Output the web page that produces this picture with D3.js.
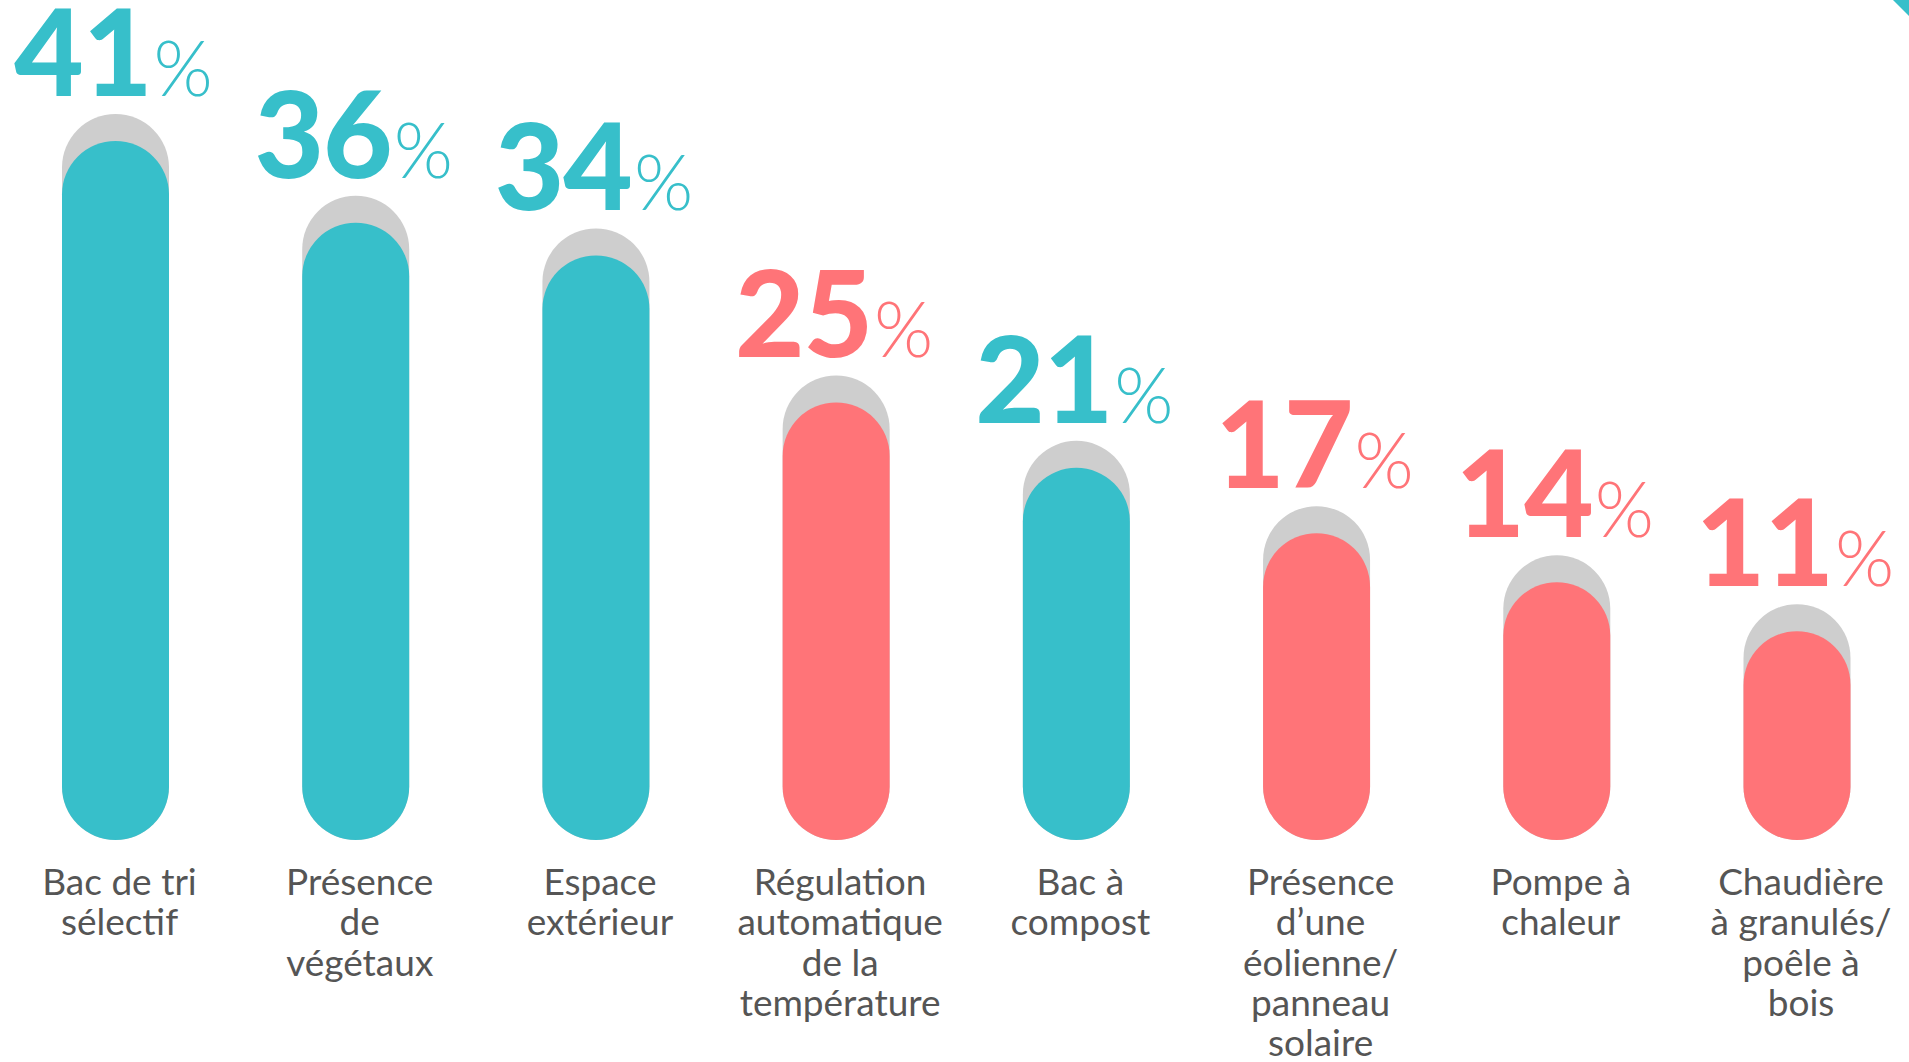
<!DOCTYPE html>
<html>
<head>
<meta charset="utf-8">
<script src="https://cdn.jsdelivr.net/npm/d3@7"></script>
<style>
  body { margin: 0; background: #fff; }
</style>
</head>
<body>
<div class="content"></div>
<script>
// data
const categories = ['tri', 'vegetaux', 'exterieur', 'regulation', 'compost', 'eolienne', 'pompe', 'chaudiere']
const labels = [
  ['Bac de tri', 'sélectif'],
  ['Présence', 'de', 'végétaux'],
  ['Espace', 'extérieur'],
  ['Régulation', 'automatique', 'de la', 'température'],
  ['Bac à', 'compost'],
  ['Présence', 'd’une', 'éolienne/', 'panneau', 'solaire'],
  ['Pompe à', 'chaleur'],
  ['Chaudière', 'à granulés/', 'poêle à', 'bois']
]
const values = [41, 36, 34, 25, 21, 17, 14, 11]
const groups = ['a', 'a', 'a', 'b', 'a', 'b', 'b', 'b']

const width = 1909
const height = 1062
const barW = 107
const shadow = 27
const baseY = 840

const teal = '#37bfca'
const red = '#ff7478'
const grey = '#cecece'
const color = d3.scaleOrdinal().domain(['a', 'b']).range([teal, red])

const x = d3.scalePoint().domain(categories).range([115.5, 1797])
const y = d3.scaleLinear().domain([0, 41]).range([811, 141])

const svg = d3.select('div.content')
  .append('svg')
  .attr('width', width)
  .attr('height', height)

// little corner triangle top right
svg.append('path')
  .attr('d', `M${width - 16},0 L${width},0 L${width},16 Z`)
  .attr('fill', teal)

const g = svg.selectAll('g.bar')
  .data(categories)
  .join('g')
  .attr('class', 'bar')
  .attr('transform', d => `translate(${x(d)},0)`)

// grey shadow behind
g.append('rect')
  .attr('x', -barW / 2)
  .attr('y', (d, i) => y(values[i]) - shadow)
  .attr('width', barW)
  .attr('height', (d, i) => baseY - y(values[i]) + shadow)
  .attr('rx', barW / 2)
  .attr('ry', barW / 2)
  .attr('fill', grey)

g.append('rect')
  .attr('x', -barW / 2)
  .attr('y', (d, i) => y(values[i]))
  .attr('width', barW)
  .attr('height', (d, i) => baseY - y(values[i]))
  .attr('rx', barW / 2)
  .attr('ry', barW / 2)
  .attr('fill', (d, i) => color(groups[i]))

// value labels
const val = g.append('text')
  .attr('x', -2)
  .attr('y', (d, i) => y(values[i]) - shadow - 18)
  .attr('text-anchor', 'middle')
  .attr('fill', (d, i) => color(groups[i]))
  .style('font-family', 'Lato, sans-serif')
val.append('tspan')
  .attr('font-size', 120)
  .attr('font-weight', 900)
  .attr('letter-spacing', -1)
  .text((d, i) => values[i])
val.append('tspan')
  .attr('font-size', 76)
  .attr('font-weight', 300)
  .attr('dx', 2)
  .text('%')

// category labels
g.append('text')
  .attr('text-anchor', 'middle')
  .attr('fill', '#555')
  .style('font-family', 'Lato, sans-serif')
  .attr('font-size', 37)
  .selectAll('tspan')
  .data((d, i) => labels[i])
  .join('tspan')
  .attr('x', 4)
  .attr('y', (d, j) => 895 + j * 40.3)
  .text(d => d)
</script>
</body>
</html>
